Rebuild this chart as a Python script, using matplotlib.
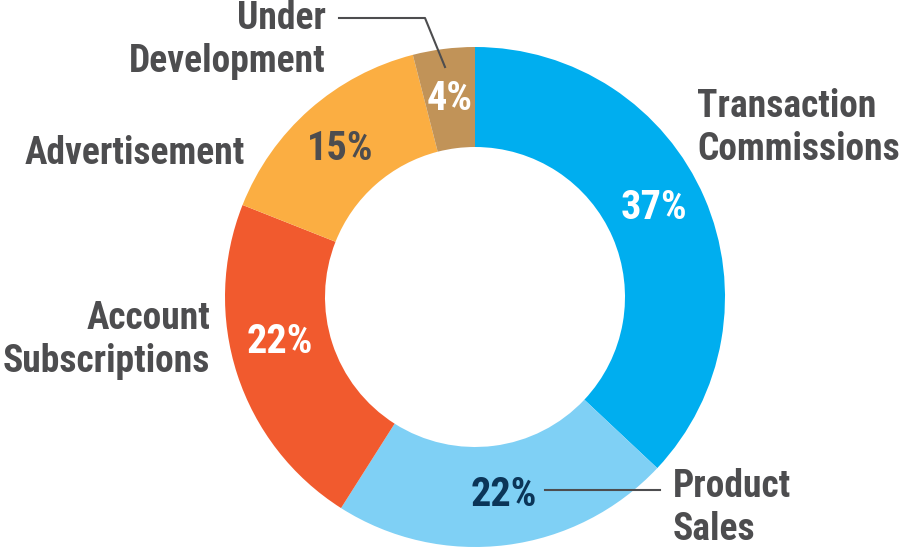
import matplotlib
matplotlib.use("Agg")
import matplotlib.pyplot as plt
import numpy as np
from matplotlib import font_manager

# ==== data ====
categories = ["Transaction\nCommissions", "Product\nSales", "Account\nSubscriptions",
              "Advertisement", "Under\nDevelopment"]
shares = [37, 22, 22, 15, 4]
colors = ["#00AEEF", "#7FD0F5", "#F15A2E", "#FBAE42", "#C19358"]
pct_colors = ["white", "#0B3558", "white", "#4D4D4F", "white"]

names = {f.name for f in font_manager.fontManager.ttflist}
wanted = ["Roboto Condensed", "Archivo Narrow", "PT Sans Narrow", "Liberation Sans Narrow"]
chosen = [n for n in wanted if n in names][:1]
plt.rcParams['font.family'] = chosen + ["DejaVu Sans"]
text_gray = "#4D4D4F"

fig = plt.figure(figsize=(9.01, 5.5), dpi=100)
ax = fig.add_axes([0, 0, 1, 1])

cx, cy, R = 475, 253, 250
wedges, _ = ax.pie(shares, colors=colors, startangle=90, counterclock=False,
                   radius=R, center=(cx, cy), frame=True,
                   wedgeprops=dict(width=100, linewidth=0))
ax.set_xlim(0, 901)
ax.set_ylim(0, 550)
ax.set_aspect("equal")
ax.axis("off")

# percent labels inside the ring
angle_shift = [3, 1, -5, 1, 0]
for w, s, c, da in zip(wedges, shares, pct_colors, angle_shift):
    mid = np.deg2rad((w.theta1 + w.theta2) / 2 + da)
    ax.text(cx + 200 * np.cos(mid), cy + 200 * np.sin(mid), f"{s}%",
            ha="center", va="center", fontsize=29, fontweight="bold", color=c)

lab = dict(fontsize=27, fontweight="bold", color=text_gray, linespacing=1.18)
ax.text(697, 550 - 128, categories[0], ha="left", va="center", **lab)
ax.text(673, 550 - 508, categories[1], ha="left", va="center", **lab)
ax.text(210, 550 - 340, categories[2], ha="right", va="center", ma="right", **lab)
ax.text(245, 550 - 153, categories[3], ha="right", va="center", **lab)
ax.text(326, 550 - 40, categories[4], ha="right", va="center", ma="right", **lab)

# leader lines
ax.plot([545, 660], [550 - 490, 550 - 490], color=text_gray, lw=1.5)
ax.plot([339, 425, 445], [550 - 18, 550 - 18, 550 - 67], color=text_gray, lw=1.5)

plt.savefig("out.png", dpi=100)
